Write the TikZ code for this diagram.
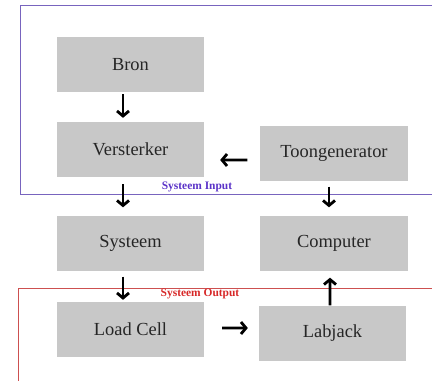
\documentclass[tikz,border=0pt]{standalone}
\usepackage{fontspec}
\setmainfont{Liberation Serif}
\usetikzlibrary{arrows.meta}
\definecolor{blokgrijs}{RGB}{200,200,200}
\definecolor{inpaars}{RGB}{120,100,190}
\definecolor{uitrood}{RGB}{205,80,80}
\definecolor{labelpaars}{RGB}{90,50,200}
\definecolor{labelrood}{RGB}{215,40,40}

\begin{document}
\begin{tikzpicture}[x=1bp, y=-1bp,
    blok/.style={fill=blokgrijs, minimum width=147bp, minimum height=55bp,
        font=\fontsize{18.5}{20}\selectfont, text=black!85},
    pijl/.style={line width=2.8bp, -{Straight Barb[length=5bp, width=12bp]}},
    kaderlabel/.style={font=\fontsize{11.5}{12}\selectfont\bfseries}]
    \useasboundingbox (0,0) rectangle (432,381);
    \clip (0,0) rectangle (432,381);

    % kaders voor input en output
    \draw[inpaars, line width=0.8bp] (20,5) rectangle (450,194);
    \draw[uitrood, line width=0.8bp] (18,288) rectangle (450,400);
    \node[kaderlabel, text=labelpaars] (inlabel) at (197,187) {Systeem Input};
    \node[kaderlabel, text=labelrood] (uitlabel) at (200,294) {Systeem Output};

    % blokken
    \node[blok] (bron) at (130.5,64.5) {Bron};
    \node[blok] (verst) at (130.5,149.5) {Versterker};
    \node[blok] (toon) at (334,153) {Toongenerator};
    \node[blok] (sys) at (130.5,243) {Systeem};
    \node[blok] (comp) at (334,243) {Computer};
    \node[blok] (load) at (130.5,329.5) {Load Cell};
    \node[blok] (lab) at (332.5,333) {Labjack};

    % pijlen
    \draw[pijl, shorten <=2bp, shorten >=4bp] ([xshift=-7.5bp]bron.south) -- ([xshift=-7.5bp]verst.north);
    \draw[pijl, shorten <=7bp, shorten >=8bp] ([xshift=-7.5bp]verst.south) -- ([xshift=-7.5bp]sys.north);
    \draw[pijl, shorten <=6bp, shorten >=2bp] ([xshift=-7.5bp]sys.south) -- ([xshift=-7.5bp]load.north);
    \draw[pijl, shorten <=6bp, shorten >=8bp] ([xshift=-5bp]toon.south) -- ([xshift=-5bp]comp.north);
    \draw[pijl, shorten <=13bp, shorten >=16bp] ([yshift=-7bp]toon.west) -- ([yshift=-10.5bp]verst.east);
    \draw[pijl, shorten <=18bp, shorten >=11bp] ([yshift=1.5bp]load.east) -- ([yshift=5bp]lab.west);
    \draw[pijl, shorten <=0bp, shorten >=7bp] ([xshift=-2.5bp]lab.north) -- ([xshift=-4bp]comp.south);
\end{tikzpicture}
\end{document}
